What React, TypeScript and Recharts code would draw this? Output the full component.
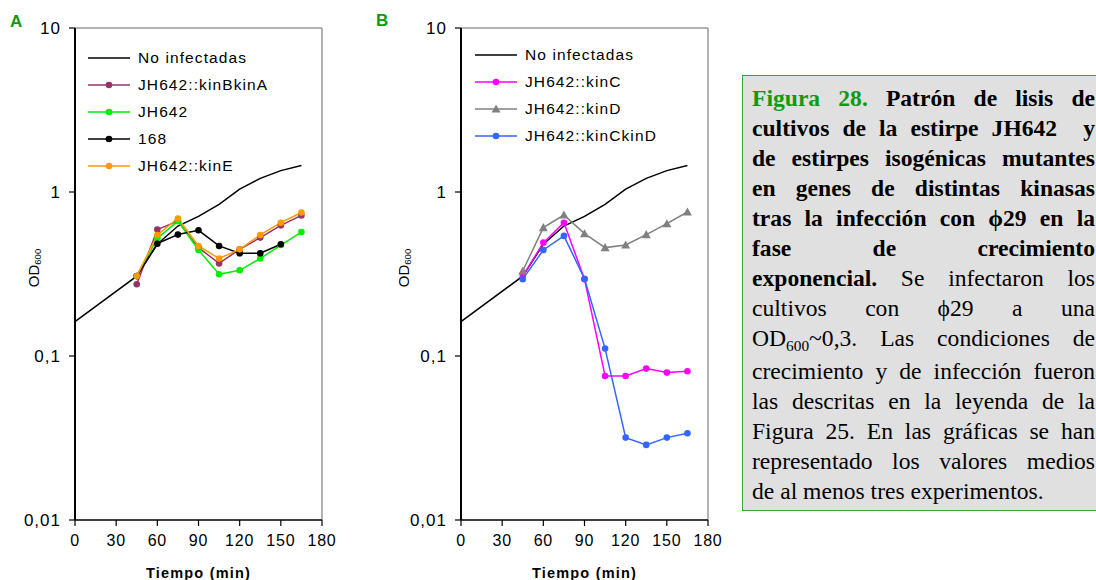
import React from "react";
import { LineChart, Line, XAxis, YAxis, ReferenceLine, Legend, Label } from "recharts";

const FONT = '"Liberation Sans", Arial, sans-serif';
const SERIF = '"Liberation Serif", "Times New Roman", serif';
const GREEN = "#119911";

// tiempos de muestreo (min)
const TIMES = [0, 45, 60, 75, 90, 105, 120, 135, 150, 165];
const X_TICKS = [0, 30, 60, 90, 120, 150, 180];
const Y_TICKS = [0.01, 0.1, 1, 10];

// OD600 de cada cultivo (null = sin medida)
const noInfectadas = [0.162, 0.307, 0.48, 0.62, 0.71, 0.84, 1.04, 1.21, 1.35, 1.45];
const kinBkinA = [null, 0.274, 0.59, 0.665, 0.458, 0.367, 0.447, 0.527, 0.626, 0.72];
const jh642 = [null, 0.307, 0.522, 0.665, 0.443, 0.315, 0.333, 0.393, 0.475, 0.57];
const cepa168 = [null, 0.307, 0.484, 0.55, 0.584, 0.469, 0.423, 0.423, 0.48, null];
const kinE = [null, 0.307, 0.547, 0.69, 0.469, 0.393, 0.447, 0.547, 0.65, 0.75];
const kinC = [null, 0.307, 0.491, 0.65, 0.294, 0.0755, 0.0755, 0.0838, 0.0792, 0.0807];
const kinD = [null, 0.33, 0.607, 0.724, 0.557, 0.458, 0.475, 0.55, 0.641, 0.755];
const kinCkinD = [null, 0.294, 0.443, 0.54, 0.296, 0.111, 0.0318, 0.0287, 0.0318, 0.0338];

type Serie = { key: string; name: string; color: string; values: (number | null)[]; marker: "none" | "circle" | "triangle" };

const SERIES_A: Serie[] = [
  { key: "noInf", name: "No infectadas", color: "#000000", values: noInfectadas, marker: "none" },
  { key: "kinBkinA", name: "JH642::kinBkinA", color: "#993366", values: kinBkinA, marker: "circle" },
  { key: "jh642", name: "JH642", color: "#00ee00", values: jh642, marker: "circle" },
  { key: "c168", name: "168", color: "#000000", values: cepa168, marker: "circle" },
  { key: "kinE", name: "JH642::kinE", color: "#ff9900", values: kinE, marker: "circle" },
];

const SERIES_B: Serie[] = [
  { key: "noInf", name: "No infectadas", color: "#000000", values: noInfectadas, marker: "none" },
  { key: "kinC", name: "JH642::kinC", color: "#ff00ff", values: kinC, marker: "circle" },
  { key: "kinD", name: "JH642::kinD", color: "#808080", values: kinD, marker: "triangle" },
  { key: "kinCkinD", name: "JH642::kinCkinD", color: "#3366ff", values: kinCkinD, marker: "circle" },
];

const buildRows = (series: Serie[]) =>
  TIMES.map((t, i) => {
    const row: Record<string, number | null> = { t };
    series.forEach((s) => (row[s.key] = s.values[i]));
    return row;
  });

const fmt = (v: number) => String(v).replace(".", ",");

const triangle = (cx: number, cy: number, s: number) =>
  `M${cx},${cy - s}L${cx + s},${cy + s * 0.8}L${cx - s},${cy + s * 0.8}Z`;

const makeDot = (s: Serie) => (props: any) => {
  const { cx, cy, key } = props;
  if (cx == null || cy == null || props.value == null) return <g key={key} />;
  if (s.marker === "triangle") return <path key={key} d={triangle(cx, cy, 4.5)} fill={s.color} />;
  return <circle key={key} cx={cx} cy={cy} r={3.3} fill={s.color} />;
};

const LegendBox = ({ series }: { series: Serie[] }) => (
  <div style={{ fontFamily: FONT, fontSize: 15.5, letterSpacing: 1.1, color: "#000" }}>
    {series.map((s) => (
      <div key={s.key} style={{ display: "flex", alignItems: "center", height: 27 }}>
        <svg width={42} height={12}>
          <line x1={0} y1={6} x2={42} y2={6} stroke={s.color} strokeWidth={1.5} />
          {s.marker === "circle" && <circle cx={21} cy={6} r={3.3} fill={s.color} />}
          {s.marker === "triangle" && <path d={triangle(21, 6, 4.5)} fill={s.color} />}
        </svg>
        <span style={{ marginLeft: 8 }}>{s.name}</span>
      </div>
    ))}
  </div>
);

const OdLabel = () => {
  const x = 33;
  const y = 268;
  return (
    <text x={x} y={y} transform={`rotate(-90 ${x} ${y})`} textAnchor="middle" dominantBaseline="central" fontFamily={FONT} fontSize={15} fill="#000">
      OD<tspan fontSize={9.5} dy={4}>600</tspan>
    </text>
  );
};

const X_TICK_STYLE = { fill: "#000", fontSize: 16, fontFamily: FONT, letterSpacing: 0.8 };
const Y_TICK_STYLE = { fill: "#000", fontSize: 17, fontFamily: FONT, letterSpacing: 1 };

const Panel = ({ series, width, yAxisWidth, legendLeft, legendTop }: { series: Serie[]; width: number; yAxisWidth: number; legendLeft: number; legendTop: number }) => (
  <LineChart width={width} height={580} data={buildRows(series)} margin={{ top: 28, right: 48, bottom: 0, left: 0 }}>
    <XAxis
      dataKey="t"
      type="number"
      domain={[0, 180]}
      ticks={X_TICKS}
      interval={0}
      height={60}
      tickSize={6}
      tickMargin={9}
      axisLine={{ stroke: "#000", strokeWidth: 1.5 }}
      tickLine={{ stroke: "#000", strokeWidth: 1.2 }}
      tick={X_TICK_STYLE}
    >
      <Label value="Tiempo (min)" position="insideBottom" offset={2} fill="#000" fontSize={14.5} fontWeight="bold" fontFamily={FONT} letterSpacing={1.2} />
    </XAxis>
    <YAxis
      type="number"
      scale="log"
      domain={[0.01, 10]}
      ticks={Y_TICKS}
      interval={0}
      allowDataOverflow
      width={yAxisWidth}
      tickSize={6}
      tickMargin={8}
      tickFormatter={fmt}
      axisLine={{ stroke: "#000", strokeWidth: 2 }}
      tickLine={{ stroke: "#000", strokeWidth: 1.2 }}
      tick={Y_TICK_STYLE}
    >
      <Label content={OdLabel} />
    </YAxis>
    <ReferenceLine y={10} stroke="#999" strokeWidth={1.5} />
    <ReferenceLine x={180} stroke="#999" strokeWidth={1.5} />
    <Legend
      layout="vertical"
      align="center"
      verticalAlign="middle"
      wrapperStyle={{ left: legendLeft, top: legendTop, width: 240 }}
      content={() => <LegendBox series={series} />}
    />
    {series.map((s) => (
      <Line
        key={s.key}
        dataKey={s.key}
        name={s.name}
        stroke={s.color}
        strokeWidth={1.5}
        dot={s.marker === "none" ? false : makeDot(s)}
        activeDot={false}
        isAnimationActive={false}
      />
    ))}
  </LineChart>
);

const sub = { fontSize: "0.65em", position: "relative" as const, top: "0.35em" };

const CAPTION: React.ReactNode[] = [
  <b><span style={{ color: GREEN }}>Figura 28.</span> Patrón de lisis de</b>,
  <b>cultivos de la estirpe JH642&nbsp; y</b>,
  <b>de estirpes isogénicas mutantes</b>,
  <b>en genes de distintas kinasas</b>,
  <b>tras la infección con ϕ29 en la</b>,
  <b>fase de crecimiento</b>,
  <><b>exponencial.</b> Se infectaron los</>,
  <>cultivos con ϕ29 a una</>,
  <>OD<span style={sub}>600</span>~0,3. Las condiciones de</>,
  <>crecimiento y de infección fueron</>,
  <>las descritas en la leyenda de la</>,
  <>Figura 25. En las gráficas se han</>,
  <>representado los valores medios</>,
  <>de al menos tres experimentos.</>,
];

export default function App() {
  return (
    <div style={{ position: "absolute", left: 0, top: 0, width: 1096, height: 580, overflow: "hidden", background: "#fff" }}>
      <div style={{ position: "absolute", left: 10, top: 12, fontFamily: FONT, fontWeight: "bold", fontSize: 17, color: GREEN }}>A</div>
      <div style={{ position: "absolute", left: 376, top: 11, fontFamily: FONT, fontWeight: "bold", fontSize: 17, color: GREEN }}>B</div>
      <div style={{ position: "absolute", left: 0, top: 0 }}>
        <Panel series={SERIES_A} width={370} yAxisWidth={75} legendLeft={88} legendTop={44} />
      </div>
      <div style={{ position: "absolute", left: 370, top: 0 }}>
        <Panel series={SERIES_B} width={386} yAxisWidth={91} legendLeft={105} legendTop={41} />
      </div>
      <div
        style={{
          position: "absolute",
          left: 742,
          top: 75,
          width: 343,
          padding: "7px 20px 4px 9px",
          background: "#e0e0e0",
          border: "1.5px solid #33aa33",
          fontFamily: SERIF,
          fontSize: 23.6,
          lineHeight: "30px",
          color: "#000",
        }}
      >
        {CAPTION.map((line, i) => (
          <div key={i} style={{ textAlign: "justify", textAlignLast: i === CAPTION.length - 1 ? "left" : "justify" }}>
            {line}
          </div>
        ))}
      </div>
    </div>
  );
}
